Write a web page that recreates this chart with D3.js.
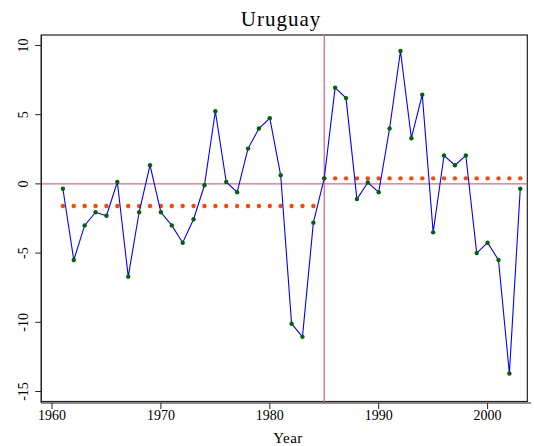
<!DOCTYPE html>
<meta charset="utf-8">
<head>
  <style>
    body { margin: 0; background: white; }
    .tick-label {
      font-family: "Liberation Serif", "DejaVu Serif", serif;
      font-size: 14px;
      fill: #000;
    }
    .title {
      font-family: "Liberation Serif", serif;
      font-size: 21px;
      letter-spacing: 1px;
      fill: #000;
    }
    .axis-title {
      font-family: "Liberation Serif", serif;
      font-size: 15px;
      letter-spacing: 0.5px;
      fill: #000;
    }
  </style>
</head>
<script src="https://d3js.org/d3.v7.min.js"></script>

<div id="my_dataviz"></div>
<script>
// data
var years = d3.range(1961, 2004);
var growth = [-0.35, -5.5, -3.0, -2.05, -2.3, 0.14, -6.7, -2.05, 1.35, -2.05,
              -3.0, -4.25, -2.55, -0.1, 5.25, 0.14, -0.6, 2.55, 4.0, 4.75,
              0.62, -10.1, -11.05, -2.8, 0.4, 6.95, 6.2, -1.1, 0.1, -0.6,
              4.0, 9.6, 3.3, 6.45, -3.5, 2.05, 1.35, 2.05, -5.0, -4.25,
              -5.5, -13.7, -0.35];
var breakYear = 1985;
var periodStart = [1961, 1985];
var periodEnd = [1984, 2003];
var periodMean = [-1.6, 0.4];
var xTicks = [1960, 1970, 1980, 1990, 2000];
var yTicks = [10, 5, 0, -5, -10, -15];

var W = 534, H = 446;
var LEFT = 41.3, RIGHT = 527.3, TOP = 35, BOTTOM = 401.5;

var svg = d3.select("#my_dataviz")
  .append("svg")
  .attr("width", W)
  .attr("height", H);

var x = d3.scaleLinear().domain([1960, 2000]).range([52, 487.6]);
var y = d3.scaleLinear().domain([10, -15]).range([45.5, 391.5]);

var pink = "#d4698a";

// frame
svg.append("rect")
  .attr("x", LEFT).attr("y", TOP)
  .attr("width", RIGHT - LEFT).attr("height", BOTTOM - TOP)
  .attr("fill", "none").attr("stroke", "#222").attr("stroke-width", 1.2);

// reference lines
svg.append("line")
  .attr("x1", LEFT).attr("x2", RIGHT)
  .attr("y1", y(0)).attr("y2", y(0))
  .attr("stroke", pink).attr("stroke-width", 1.3);
svg.append("line")
  .attr("x1", x(breakYear)).attr("x2", x(breakYear))
  .attr("y1", TOP).attr("y2", 403)
  .attr("stroke", pink).attr("stroke-width", 1.3);

// y axis
var yAxis = svg.append("g");
yAxis.append("line")
  .attr("x1", LEFT).attr("x2", LEFT).attr("y1", TOP).attr("y2", 403)
  .attr("stroke", "#222").attr("stroke-width", 1.2);
yAxis.selectAll(".yt").data(yTicks).enter().append("line")
  .attr("x1", LEFT - 6).attr("x2", LEFT)
  .attr("y1", d => y(d)).attr("y2", d => y(d))
  .attr("stroke", "#222");
yAxis.selectAll(".yl").data(yTicks).enter().append("text")
  .attr("class", "tick-label")
  .attr("text-anchor", "middle")
  .attr("transform", d => `translate(27.5, ${y(d)}) rotate(-90)`)
  .text(d => d);

// x axis
var xAxis = svg.append("g");
xAxis.append("line")
  .attr("x1", LEFT).attr("x2", 531).attr("y1", 403).attr("y2", 403)
  .attr("stroke", "#222").attr("stroke-width", 1.2);
xAxis.selectAll(".xt").data(xTicks).enter().append("line")
  .attr("x1", d => x(d)).attr("x2", d => x(d))
  .attr("y1", 403).attr("y2", 409)
  .attr("stroke", "#222");
xAxis.selectAll(".xl").data(xTicks).enter().append("text")
  .attr("class", "tick-label")
  .attr("text-anchor", "middle")
  .attr("x", d => x(d)).attr("y", 419.5)
  .text(d => d);

svg.append("text")
  .attr("class", "axis-title")
  .attr("text-anchor", "middle")
  .attr("x", 288).attr("y", 443)
  .text("Year");

svg.append("text")
  .attr("class", "title")
  .attr("text-anchor", "middle")
  .attr("x", 281).attr("y", 26)
  .text("Uruguay");

// period means as dotted markers
var meanDots = [];
periodStart.forEach(function(s, i) {
  years.filter(yr => yr >= s && yr <= periodEnd[i])
    .forEach(yr => meanDots.push({year: yr, value: periodMean[i]}));
});
svg.selectAll(".mean").data(meanDots).enter().append("circle")
  .attr("cx", d => x(d.year)).attr("cy", d => y(d.value))
  .attr("r", 2.2).attr("fill", "#ff4500");

// series
var series = years.map((yr, i) => ({year: yr, value: growth[i]}));
svg.append("path")
  .datum(series)
  .attr("fill", "none")
  .attr("stroke", "#0000ff")
  .attr("stroke-width", 1.1)
  .attr("d", d3.line().x(d => x(d.year)).y(d => y(d.value)));
svg.selectAll(".pt").data(series).enter().append("circle")
  .attr("cx", d => x(d.year)).attr("cy", d => y(d.value))
  .attr("r", 2.2).attr("fill", "#006400");
</script>
